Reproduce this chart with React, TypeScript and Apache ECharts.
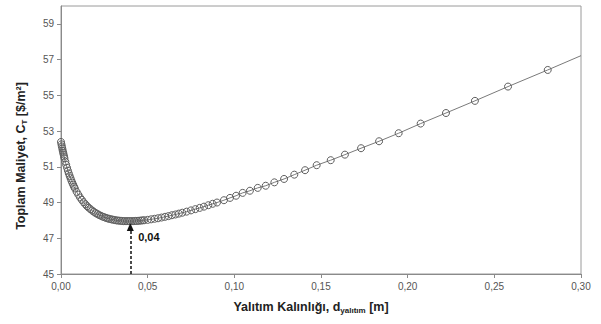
import React, { useEffect, useRef } from "react";
import * as echarts from "echarts";

// Insulation thickness [m] at each marker
const thickness = [
  0, 0.00025, 0.0005, 0.00075, 0.001, 0.00125, 0.0015, 0.00175, 0.002, 0.0025,
  0.003, 0.0035, 0.004, 0.0045, 0.005, 0.0055, 0.006, 0.0065, 0.007, 0.0075,
  0.008, 0.009, 0.01, 0.011, 0.012, 0.013, 0.014, 0.015, 0.016, 0.017,
  0.018, 0.019, 0.02, 0.021, 0.022, 0.023, 0.024, 0.025, 0.026, 0.027,
  0.028, 0.029, 0.03, 0.031, 0.032, 0.033, 0.034, 0.035, 0.036, 0.037,
  0.038, 0.039, 0.04, 0.041, 0.042, 0.043, 0.044, 0.045, 0.046, 0.047,
  0.048, 0.05, 0.052, 0.054, 0.056, 0.058, 0.06, 0.062, 0.064, 0.066,
  0.068, 0.07, 0.0725, 0.075, 0.0775, 0.08, 0.0825, 0.085, 0.0875, 0.09,
  0.094, 0.0975, 0.101, 0.1048, 0.109, 0.1135, 0.1181, 0.1231, 0.1287, 0.1346,
  0.1408, 0.1475, 0.1556, 0.1638, 0.1731, 0.1835, 0.1948, 0.2075, 0.2221, 0.2388,
  0.2579, 0.2808,
];

// Total cost C_T [$/m²] at each marker
const totalCost = [
  52.39, 52.26, 52.14, 52.02, 51.9, 51.79, 51.69, 51.58, 51.48, 51.29,
  51.11, 50.94, 50.78, 50.63, 50.49, 50.36, 50.23, 50.11, 50.0, 49.89,
  49.79, 49.6, 49.44, 49.28, 49.15, 49.02, 48.91, 48.8, 48.71, 48.63,
  48.55, 48.48, 48.41, 48.36, 48.3, 48.26, 48.21, 48.18, 48.14, 48.11,
  48.08, 48.06, 48.04, 48.02, 48.0, 47.99, 47.98, 47.97, 47.96, 47.96,
  47.96, 47.96, 47.96, 47.96, 47.96, 47.97, 47.97, 47.98, 47.99, 48.0,
  48.01, 48.03, 48.06, 48.09, 48.12, 48.16, 48.2, 48.24, 48.29, 48.33,
  48.38, 48.43, 48.49, 48.56, 48.63, 48.7, 48.77, 48.85, 48.93, 49.0,
  49.13, 49.26, 49.38, 49.54, 49.66, 49.82, 49.94, 50.13, 50.32, 50.56,
  50.81, 51.09, 51.37, 51.68, 52.04, 52.43, 52.88, 53.42, 54.01, 54.69,
  55.49, 56.42,
];

// Curve continues (without marker) to the right edge
const curveEnd = [0.3, 57.22];

// Optimum thickness annotation
const optimumX = [0.04];
const optimumLabel = ["0,04"];
const optimumArrowTop = [47.63];
const optimumLabelPos = [0.0445, 47.07];

const xTicks = { min: 0, max: 0.3, interval: 0.05 };
const yTicks = { min: 45, max: 60, interval: 2 };

const FONT = "'Liberation Sans', Arial, sans-serif";

const titleRich = {
  m: { fontSize: 12.5, fontWeight: "bold", fontFamily: FONT, fill: "#222", color: "#222", lineHeight: 15, verticalAlign: "middle" },
  s: { fontSize: 8, fontWeight: "bold", fontFamily: FONT, fill: "#222", color: "#222", lineHeight: 15, verticalAlign: "bottom", padding: [5, 0, 0, 0] },
};

export default function App() {
  const ref = useRef<HTMLDivElement>(null);

  useEffect(() => {
    document.body.style.margin = "0";
    if (!ref.current) return;
    const chart = echarts.init(ref.current, undefined, { renderer: "svg" });

    const data: any[] = thickness.map((x, i) => [x, totalCost[i]]);
    data.push({ value: curveEnd, symbol: "none" });

    const fmt = (v: number) => v.toFixed(2).replace(".", ",");

    chart.setOption({
      animation: false,
      backgroundColor: "#ffffff",
      textStyle: { fontFamily: FONT },
      grid: {
        left: 61,
        right: 20,
        top: 6,
        bottom: 50,
        show: true,
        borderColor: "#9a9a9a",
        borderWidth: 1,
        backgroundColor: "transparent",
      },
      xAxis: {
        type: "value",
        min: xTicks.min,
        max: xTicks.max,
        interval: xTicks.interval,
        splitLine: { show: false },
        axisLine: { lineStyle: { color: "#8a8a8a", width: 1 } },
        axisTick: { show: true, inside: false, length: 4, lineStyle: { color: "#8a8a8a" } },
        axisLabel: {
          color: "#555",
          fontSize: 10,
          fontFamily: FONT,
          margin: 7,
          formatter: (v: number) => fmt(v),
        },
      },
      yAxis: {
        type: "value",
        min: yTicks.min,
        max: yTicks.max,
        interval: yTicks.interval,
        splitLine: { show: false },
        axisLine: { show: true, lineStyle: { color: "#8a8a8a", width: 1 } },
        axisTick: { show: true, inside: false, length: 4, lineStyle: { color: "#8a8a8a" } },
        axisLabel: {
          color: "#555",
          fontSize: 10,
          fontFamily: FONT,
          margin: 7,
          showMaxLabel: false,
        },
      },
      graphic: [
        {
          type: "text",
          x: 311,
          y: 307,
          style: {
            text: "{m|Yalıtım Kalınlığı, d}{s|yalıtım}{m| [m]}",
            align: "center",
            verticalAlign: "middle",
            rich: titleRich,
          },
        },
        {
          type: "text",
          x: 21,
          y: 156,
          rotation: Math.PI / 2,
          style: {
            text: "{m|Toplam Maliyet, C}{s|T}{m| [$/m²]}",
            align: "center",
            verticalAlign: "middle",
            rich: titleRich,
          },
        },
      ],
      series: [
        {
          type: "line",
          data,
          symbol: "circle",
          symbolSize: 7,
          lineStyle: { color: "#7a7a7a", width: 1 },
          itemStyle: { color: "rgba(0,0,0,0)", borderColor: "#5e5e5e", borderWidth: 1 },
          z: 3,
          markLine: {
            silent: true,
            animation: false,
            label: { show: false },
            lineStyle: { color: "#111", width: 1.5, type: [3, 2] },
            data: [
              [
                { coord: [optimumX[0], yTicks.min], symbol: "none" },
                { coord: [optimumX[0], optimumArrowTop[0]], symbol: "triangle", symbolSize: [7, 8] },
              ],
            ],
          },
          markPoint: {
            silent: true,
            animation: false,
            data: [
              {
                coord: optimumLabelPos,
                symbol: "circle",
                symbolSize: 1,
                itemStyle: { color: "rgba(0,0,0,0)" },
                label: {
                  show: true,
                  position: "inside",
                  align: "left",
                  verticalAlign: "middle",
                  formatter: optimumLabel[0],
                  color: "#111",
                  fontWeight: "bold",
                  fontSize: 11,
                  fontFamily: FONT,
                },
              },
            ],
          },
        },
      ],
    });

    return () => chart.dispose();
  }, []);

  return <div ref={ref} style={{ width: 601, height: 324 }} />;
}
